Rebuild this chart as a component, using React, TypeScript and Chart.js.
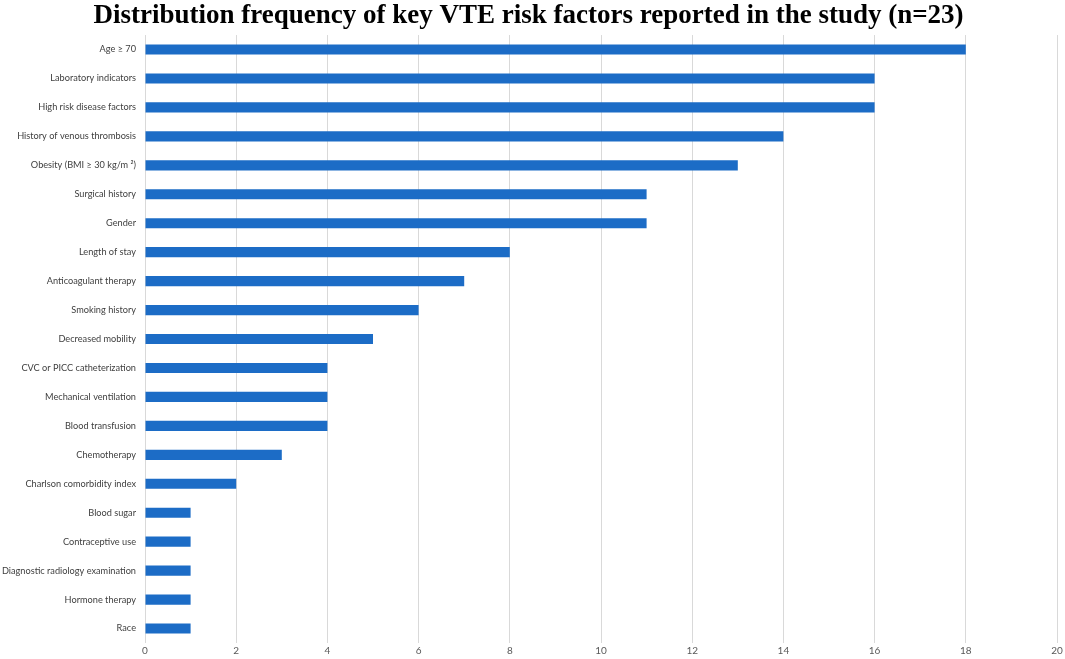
import React, { useEffect, useRef } from "react";
import { Chart, registerables } from "chart.js";

Chart.register(...registerables);

const categories = [
  "Age ≥ 70",
  "Laboratory indicators",
  "High risk disease factors",
  "History of venous thrombosis",
  "Obesity (BMI ≥ 30 kg/m ²)",
  "Surgical history",
  "Gender",
  "Length of stay",
  "Anticoagulant therapy",
  "Smoking history",
  "Decreased mobility",
  "CVC or PICC catheterization",
  "Mechanical ventilation",
  "Blood transfusion",
  "Chemotherapy",
  "Charlson comorbidity index",
  "Blood sugar",
  "Contraceptive use",
  "Diagnostic radiology examination",
  "Hormone therapy",
  "Race",
];

const frequency = [18, 16, 16, 14, 13, 11, 11, 8, 7, 6, 5, 4, 4, 4, 3, 2, 1, 1, 1, 1, 1];

const xMin = 0;
const xMax = 20;
const xStep = 2;

const titleText = "Distribution frequency of key VTE risk factors reported in the study (n=23)";

export default function App() {
  const ref = useRef<HTMLCanvasElement | null>(null);

  useEffect(() => {
    if (!ref.current) return;
    const chart = new Chart(ref.current, {
      type: "bar",
      data: {
        labels: categories,
        datasets: [
          {
            label: "Frequency",
            data: frequency,
            backgroundColor: "#1c6cc6",
            barPercentage: 0.7,
            categoryPercentage: 0.5,
          },
        ],
      },
      options: {
        indexAxis: "y",
        animation: false,
        responsive: true,
        maintainAspectRatio: false,
        layout: { padding: { left: 0, right: 8, top: 0, bottom: 0 } },
        plugins: {
          legend: { display: false },
          tooltip: { enabled: false },
          title: {
            display: true,
            text: titleText,
            color: "#000000",
            font: { family: "Liberation Serif", size: 27, weight: "bold", lineHeight: 1.15 },
            padding: { top: 1, bottom: 3 },
          },
        },
        scales: {
          x: {
            min: xMin,
            max: xMax,
            ticks: {
              stepSize: xStep,
              color: "#595959",
              font: { family: "Lato", size: 10 },
              padding: 2,
            },
            grid: { color: "#d9d9d9", drawTicks: false, lineWidth: 1 },
            border: { display: false },
          },
          y: {
            ticks: {
              color: "#404040",
              font: { family: "Lato", size: 9.2 },
              padding: 9,
              autoSkip: false,
            },
            grid: { display: false, drawTicks: false },
            border: { display: false },
            afterFit: (scale: any) => {
              scale.width = 145;
            },
          },
        },
      },
    });
    return () => chart.destroy();
  }, []);

  return (
    <div style={{ position: "fixed", left: 0, top: 0, width: 1065, height: 659, background: "#fff" }}>
      <canvas ref={ref} />
    </div>
  );
}
